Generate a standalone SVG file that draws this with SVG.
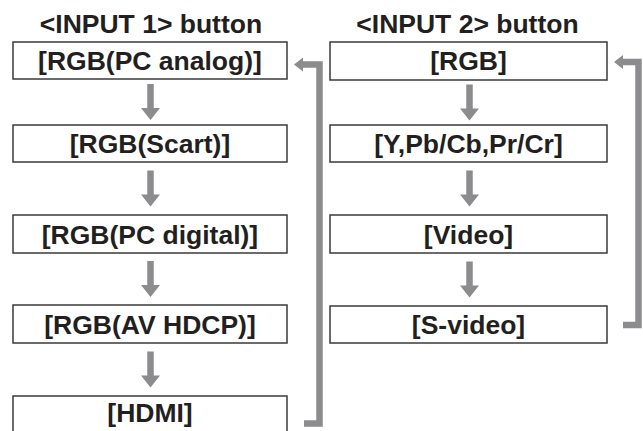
<svg xmlns="http://www.w3.org/2000/svg" width="643" height="431" viewBox="0 0 643 431">
<style>
.box{fill:#fff;stroke:#3a3a3a;stroke-width:1.5}
.t{font-family:"Liberation Sans",Arial,sans-serif;font-weight:bold;font-size:26.5px;fill:#231f20;text-anchor:middle}
.ar{fill:#8c8c8f}
.ret{fill:none;stroke:#8c8c8f;stroke-width:6.5;stroke-linejoin:miter}
</style>
<defs>
<path id="dn" d="M-3.25,0 H3.25 V24 H9.5 L0,36 L-9.5,24 H-3.25 Z"/>
</defs>
<rect width="643" height="431" fill="#fff"/>
<text class="t" x="151" y="33">&lt;INPUT 1&gt; button</text>
<text class="t" x="467.5" y="33">&lt;INPUT 2&gt; button</text>
<g id="connectors">
<use href="#dn" class="ar" x="150.5" y="84"/>
<use href="#dn" class="ar" x="150.5" y="170.5"/>
<use href="#dn" class="ar" x="150.5" y="261"/>
<use href="#dn" class="ar" x="150.5" y="351.5"/>
<use href="#dn" class="ar" x="469.5" y="84.5"/>
<use href="#dn" class="ar" x="469.5" y="170.5"/>
<use href="#dn" class="ar" x="469.5" y="261.5"/>
<path class="ret" d="M304,423.5 H319.5 V64.5 H302"/>
<polygon class="ar" points="294,64.5 303,57.5 303,71.5"/>
<path class="ret" d="M623,325 H638.5 V62 H622"/>
<polygon class="ar" points="614,62 623,55 623,69"/>
</g>
<g id="n-pc-analog"><rect class="box" x="13" y="42" width="274" height="37"/><text class="t" x="150" y="69.5">[RGB(PC analog)]</text></g>
<g id="n-scart"><rect class="box" x="13" y="125" width="274" height="37"/><text class="t" x="150" y="152.5">[RGB(Scart)]</text></g>
<g id="n-pc-digital"><rect class="box" x="13" y="215" width="274" height="38"/><text class="t" x="150" y="243.5">[RGB(PC digital)]</text></g>
<g id="n-av-hdcp"><rect class="box" x="13" y="305" width="274" height="38"/><text class="t" x="150" y="333.5">[RGB(AV HDCP)]</text></g>
<g id="n-hdmi"><rect class="box" x="13" y="396" width="274" height="40"/><text class="t" x="150" y="421.5">[HDMI]</text></g>
<g id="n-rgb"><rect class="box" x="330" y="42" width="277" height="38"/><text class="t" x="468.5" y="69.5">[RGB]</text></g>
<g id="n-ypbpr"><rect class="box" x="330" y="125" width="277" height="37"/><text class="t" x="468.5" y="152.5">[Y,Pb/Cb,Pr/Cr]</text></g>
<g id="n-video"><rect class="box" x="330" y="215" width="277" height="38"/><text class="t" x="468.5" y="243.5">[Video]</text></g>
<g id="n-svideo"><rect class="box" x="330" y="306" width="277" height="37"/><text class="t" x="468.5" y="333.5">[S-video]</text></g>
</svg>
